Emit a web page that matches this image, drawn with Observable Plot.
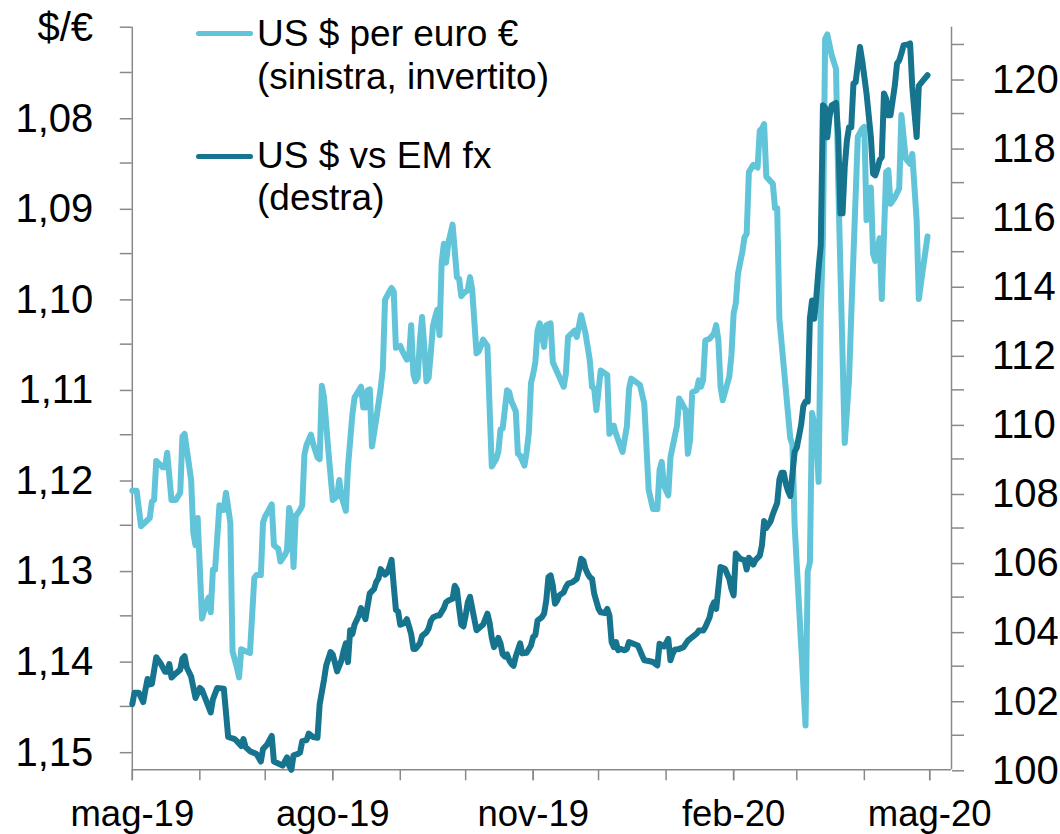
<!DOCTYPE html>
<html>
<head>
<meta charset="utf-8">
<script src="https://cdn.jsdelivr.net/npm/d3@7"></script>
<script src="https://cdn.jsdelivr.net/npm/@observablehq/plot@0.6"></script>
<style>
  html, body { margin: 0; padding: 0; background: #ffffff; }
  #wrap { position: relative; width: 1060px; height: 834px; font-family: "Liberation Sans", Arial, sans-serif; color: #000; overflow: hidden; }
  #wrap svg { position: absolute; left: 0; top: 0; }
  .lbl { position: absolute; white-space: nowrap; }
  .sw { position: absolute; height: 5.5px; border-radius: 3px; }
</style>
</head>
<body>
<div id="wrap"></div>
<script>
// ---------- data ----------
const lightDates = [
"2019-05-01","2019-05-03","2019-05-05","2019-05-09","2019-05-10","2019-05-11","2019-05-12","2019-05-15","2019-05-16","2019-05-17","2019-05-19","2019-05-21","2019-05-23","2019-05-24","2019-05-25","2019-05-28","2019-05-29","2019-05-30","2019-05-31",
"2019-06-02","2019-06-04","2019-06-05","2019-06-06","2019-06-07","2019-06-08","2019-06-10","2019-06-11","2019-06-12","2019-06-13","2019-06-15","2019-06-16","2019-06-18","2019-06-19","2019-06-20","2019-06-22","2019-06-24","2019-06-26","2019-06-27","2019-06-29","2019-06-30",
"2019-07-01","2019-07-02","2019-07-04","2019-07-05","2019-07-07","2019-07-08","2019-07-10","2019-07-11","2019-07-12","2019-07-13","2019-07-14","2019-07-15","2019-07-17","2019-07-18","2019-07-19","2019-07-20","2019-07-22","2019-07-23","2019-07-25","2019-07-26","2019-07-27","2019-07-28","2019-07-30",
"2019-08-01","2019-08-02","2019-08-03","2019-08-04","2019-08-05","2019-08-07","2019-08-08","2019-08-10","2019-08-11","2019-08-14","2019-08-15","2019-08-16","2019-08-17","2019-08-18","2019-08-19","2019-08-21","2019-08-23","2019-08-24","2019-08-25","2019-08-27","2019-08-28","2019-08-29","2019-08-30",
"2019-09-01","2019-09-02","2019-09-04","2019-09-05","2019-09-06","2019-09-07","2019-09-08","2019-09-09","2019-09-10","2019-09-11","2019-09-12","2019-09-13","2019-09-14","2019-09-15","2019-09-16","2019-09-17","2019-09-18","2019-09-19","2019-09-20","2019-09-21","2019-09-22","2019-09-23","2019-09-25","2019-09-27","2019-09-28","2019-09-29","2019-09-30",
"2019-10-02","2019-10-03","2019-10-04","2019-10-05","2019-10-06","2019-10-07","2019-10-08","2019-10-09","2019-10-11","2019-10-12","2019-10-13","2019-10-14","2019-10-15","2019-10-16","2019-10-17","2019-10-18","2019-10-20","2019-10-21","2019-10-22","2019-10-24","2019-10-25","2019-10-26","2019-10-28","2019-10-29","2019-10-30","2019-10-31",
"2019-11-01","2019-11-02","2019-11-03","2019-11-04","2019-11-06","2019-11-07","2019-11-09","2019-11-10","2019-11-15","2019-11-16","2019-11-17","2019-11-20","2019-11-21","2019-11-23","2019-11-25","2019-11-27","2019-11-28","2019-11-29","2019-11-30",
"2019-12-02","2019-12-05","2019-12-06","2019-12-08","2019-12-09","2019-12-12","2019-12-14","2019-12-15","2019-12-16","2019-12-20","2019-12-22","2019-12-24","2019-12-26","2019-12-28","2019-12-29","2019-12-30","2019-12-31",
"2020-01-02","2020-01-03","2020-01-06","2020-01-07","2020-01-10","2020-01-11","2020-01-12","2020-01-13","2020-01-15","2020-01-16","2020-01-17","2020-01-18","2020-01-19","2020-01-21","2020-01-23","2020-01-24","2020-01-25","2020-01-26","2020-01-27","2020-01-30","2020-01-31",
"2020-02-01","2020-02-02","2020-02-03","2020-02-05","2020-02-06","2020-02-07","2020-02-08","2020-02-10","2020-02-12","2020-02-13","2020-02-14","2020-02-15","2020-02-16","2020-02-19","2020-02-20","2020-02-21","2020-02-22","2020-02-27","2020-02-28","2020-02-29",
"2020-03-05","2020-03-06","2020-03-07","2020-03-08","2020-03-10","2020-03-11","2020-03-12","2020-03-13","2020-03-14","2020-03-15","2020-03-17","2020-03-19","2020-03-20","2020-03-23","2020-03-25","2020-03-26","2020-03-29","2020-03-31",
"2020-04-01","2020-04-02","2020-04-04","2020-04-05","2020-04-06","2020-04-08","2020-04-09","2020-04-11","2020-04-12","2020-04-13","2020-04-15","2020-04-17","2020-04-18","2020-04-20","2020-04-22","2020-04-23","2020-04-25","2020-04-26","2020-04-28","2020-04-30"
];
const lightValues = [
1.1212,1.1212,1.1251,1.1242,1.1224,1.1222,1.1179,1.1186,1.1186,1.1170,1.1222,1.1222,1.1214,1.1152,1.1149,1.1200,1.1258,1.1272,1.1242,
1.1353,1.1335,1.1330,1.1346,1.1299,1.1299,1.1228,1.1233,1.1233,1.1214,1.1247,1.1389,1.1407,1.1418,1.1387,1.1389,1.1391,1.1308,1.1305,1.1305,1.1247,
1.1240,1.1236,1.1227,1.1272,1.1276,1.1290,1.1283,1.1278,1.1231,1.1240,1.1296,1.1240,1.1233,1.1228,1.1172,1.1161,1.1150,1.1160,1.1175,1.1177,1.1096,1.1109,1.1168,
1.1222,1.1220,1.1218,1.1200,1.1218,1.1234,1.1185,1.1128,1.1109,1.1097,1.1120,1.1120,1.1101,1.1100,1.1163,1.1132,1.1099,1.1077,1.1001,1.0992,1.0988,1.0992,1.1054,
1.1052,1.1058,1.1067,1.1066,1.1029,1.1083,1.1091,1.1087,1.1046,1.1020,1.1052,1.1091,1.1087,1.1060,1.1030,1.1020,1.1012,1.1040,1.0960,1.0939,1.0960,1.0939,1.0918,1.0976,1.0978,1.0997,1.0994,
1.0990,1.0976,1.0990,1.1025,1.1060,1.1058,1.1052,1.1045,1.1052,1.1120,1.1185,1.1181,1.1177,1.1169,1.1144,1.1143,1.1101,1.1103,1.1113,1.1124,1.1171,1.1173,1.1184,1.1169,1.1148,1.1093,
1.1083,1.1070,1.1035,1.1027,1.1053,1.1029,1.1027,1.1070,1.1097,1.1083,1.1042,1.1035,1.1042,1.1018,1.1038,1.1068,1.1097,1.1099,1.1123,
1.1079,1.1084,1.1149,1.1140,1.1149,1.1169,1.1141,1.1099,1.1088,1.1095,1.1116,1.1211,1.1232,1.1232,1.1189,1.1180,1.1206,
1.1217,1.1175,1.1140,1.1110,1.1123,1.1171,1.1156,1.1103,1.1101,1.1090,1.1097,1.1090,1.1046,1.1044,1.1038,1.1029,1.1046,1.1097,1.1112,1.1086,1.1062,
1.1016,1.1005,1.0972,1.0948,1.0932,1.0928,1.0860,1.0852,1.0855,1.0814,1.0812,1.0807,1.0865,1.0873,1.0900,1.0900,1.1022,1.1154,1.1161,1.1250,
1.1471,1.1301,1.1291,1.1126,1.1149,1.1202,1.1017,1.0931,1.0713,1.0708,1.0731,1.0746,1.0870,1.1159,1.1088,1.1017,1.0821,1.0812,
1.0810,1.0913,1.0877,1.0950,1.0958,1.0933,1.1000,1.0860,1.0858,1.0895,1.0888,1.0878,1.0797,1.0845,1.0851,1.0840,1.0913,1.1000,1.0965,1.0931
];

const darkDates = [
"2019-05-01","2019-05-02","2019-05-04","2019-05-06","2019-05-07","2019-05-08","2019-05-09","2019-05-10","2019-05-12","2019-05-14","2019-05-16","2019-05-17","2019-05-18","2019-05-19","2019-05-21","2019-05-23","2019-05-24","2019-05-25","2019-05-26","2019-05-28","2019-05-30",
"2019-06-01","2019-06-02","2019-06-04","2019-06-06","2019-06-07","2019-06-09","2019-06-12","2019-06-13","2019-06-14","2019-06-17","2019-06-18","2019-06-20","2019-06-21","2019-06-22","2019-06-24","2019-06-27","2019-06-29","2019-06-30",
"2019-07-02","2019-07-04","2019-07-05","2019-07-07","2019-07-09","2019-07-11","2019-07-12","2019-07-13","2019-07-14","2019-07-16","2019-07-17","2019-07-18","2019-07-20","2019-07-21","2019-07-23","2019-07-25","2019-07-26","2019-07-28","2019-07-29","2019-07-31",
"2019-08-01","2019-08-02","2019-08-03","2019-08-05","2019-08-06","2019-08-07","2019-08-08","2019-08-09","2019-08-10","2019-08-11","2019-08-13","2019-08-14","2019-08-16","2019-08-17","2019-08-18","2019-08-20","2019-08-21","2019-08-22","2019-08-23","2019-08-25","2019-08-26","2019-08-27","2019-08-28","2019-08-29","2019-08-30","2019-08-31",
"2019-09-01","2019-09-03","2019-09-04","2019-09-05","2019-09-06","2019-09-07","2019-09-08","2019-09-10","2019-09-11","2019-09-13","2019-09-14","2019-09-15","2019-09-16","2019-09-18","2019-09-19","2019-09-21","2019-09-22","2019-09-23","2019-09-25","2019-09-26","2019-09-27","2019-09-28","2019-09-29","2019-09-30",
"2019-10-01","2019-10-02","2019-10-03","2019-10-04","2019-10-06","2019-10-08","2019-10-09","2019-10-11","2019-10-12","2019-10-13","2019-10-14","2019-10-15","2019-10-16","2019-10-17","2019-10-18","2019-10-19","2019-10-20","2019-10-21","2019-10-22","2019-10-23","2019-10-24","2019-10-26","2019-10-27","2019-10-29","2019-10-31",
"2019-11-01","2019-11-02","2019-11-03","2019-11-05","2019-11-06","2019-11-07","2019-11-08","2019-11-09","2019-11-10","2019-11-11","2019-11-12","2019-11-13","2019-11-15","2019-11-16","2019-11-17","2019-11-19","2019-11-21","2019-11-22","2019-11-23","2019-11-24","2019-11-25","2019-11-26","2019-11-27","2019-11-28","2019-11-29",
"2019-12-01","2019-12-02","2019-12-04","2019-12-05","2019-12-06","2019-12-07","2019-12-08","2019-12-09","2019-12-10","2019-12-11","2019-12-13","2019-12-14","2019-12-15","2019-12-17","2019-12-19","2019-12-20","2019-12-21","2019-12-22","2019-12-24","2019-12-26","2019-12-28","2019-12-29","2019-12-31",
"2020-01-01","2020-01-02","2020-01-03","2020-01-04","2020-01-05","2020-01-07","2020-01-09","2020-01-11","2020-01-12","2020-01-14","2020-01-15","2020-01-16","2020-01-18","2020-01-19","2020-01-21","2020-01-22","2020-01-23","2020-01-24","2020-01-26","2020-01-28","2020-01-30","2020-01-31",
"2020-02-01","2020-02-02","2020-02-04","2020-02-06","2020-02-07","2020-02-08","2020-02-09","2020-02-10","2020-02-11","2020-02-13","2020-02-14","2020-02-15","2020-02-16","2020-02-18","2020-02-19","2020-02-21","2020-02-22","2020-02-23","2020-02-24","2020-02-25","2020-02-26","2020-02-27","2020-02-29",
"2020-03-01","2020-03-03","2020-03-04","2020-03-05","2020-03-06","2020-03-07","2020-03-08","2020-03-09","2020-03-10","2020-03-11","2020-03-12","2020-03-13","2020-03-14","2020-03-15","2020-03-16","2020-03-17","2020-03-19","2020-03-20","2020-03-21","2020-03-22","2020-03-23","2020-03-24","2020-03-25","2020-03-26","2020-03-27","2020-03-28","2020-03-30","2020-03-31",
"2020-04-01","2020-04-02","2020-04-04","2020-04-05","2020-04-06","2020-04-07","2020-04-08","2020-04-09","2020-04-10","2020-04-11","2020-04-12","2020-04-13","2020-04-14","2020-04-15","2020-04-16","2020-04-17","2020-04-18","2020-04-19","2020-04-21","2020-04-22","2020-04-23","2020-04-24","2020-04-25","2020-04-26","2020-04-28","2020-04-30"
];
const darkValues = [
101.90,102.23,102.23,101.96,102.31,102.63,102.47,102.49,103.26,103.08,102.84,102.84,103.06,102.67,102.79,102.90,103.22,103.29,102.96,102.70,102.08,
102.37,102.31,101.99,101.66,102.04,102.37,102.35,101.66,100.95,100.89,100.83,100.69,100.89,100.66,100.54,100.46,100.24,100.60,
100.74,100.98,100.24,100.18,100.12,100.36,100.12,100.00,100.42,100.46,100.50,100.83,100.86,101.05,100.95,100.93,101.90,102.61,103.02,103.41,
103.34,103.10,102.85,103.17,103.45,103.66,103.12,104.04,103.93,104.20,104.47,104.68,104.36,104.74,105.11,105.24,105.44,105.54,105.81,105.65,105.71,105.87,106.08,105.33,104.63,104.58,
104.20,104.25,104.36,104.15,103.93,103.50,103.50,103.66,103.88,103.98,104.09,104.31,104.41,104.47,104.47,104.68,104.85,104.90,104.95,105.33,105.22,104.68,104.20,104.15,
104.47,104.85,105.01,104.68,104.04,104.15,104.20,104.52,104.25,103.82,103.55,103.65,103.82,103.66,103.34,103.28,103.34,103.17,103.07,103.01,103.28,103.66,103.37,103.39,103.60,
103.85,103.90,104.32,104.42,104.52,104.90,105.58,105.63,105.34,104.81,104.90,105.05,105.14,105.29,105.39,105.43,105.53,105.77,106.11,106.06,105.82,105.68,105.58,105.53,105.10,
104.66,104.56,104.54,104.66,104.47,103.70,103.55,103.70,103.46,103.50,103.46,103.50,103.70,103.65,103.60,103.46,103.31,103.17,103.15,103.12,103.02,103.65,103.57,
103.67,103.79,103.17,103.36,103.48,103.50,103.55,103.74,103.79,103.89,103.94,104.03,104.03,104.13,104.42,104.71,104.85,104.66,105.87,105.82,105.53,105.24,
105.05,106.26,106.11,106.07,105.80,106.14,106.07,105.94,106.07,106.20,106.50,107.20,107.00,107.20,107.40,107.73,108.40,108.60,108.60,108.27,108.07,107.93,109.20,
109.33,109.99,110.53,110.66,110.66,113.06,113.59,113.06,113.72,114.52,115.19,119.24,119.17,118.31,118.90,119.24,119.31,118.38,116.11,116.11,117.45,118.22,118.61,118.61,119.87,119.91,120.93,120.54,
120.06,119.58,118.32,117.26,117.21,117.40,117.65,117.74,119.58,119.43,118.95,118.95,119.38,119.82,120.45,120.54,120.74,120.98,121.00,121.03,119.77,119.04,118.32,119.80,119.96,120.11
];

// axes / labels
const xDomain = ["2019-05-01", "2020-05-11"];
const monthTicks = ["2019-05-01","2019-06-01","2019-07-01","2019-08-01","2019-09-01","2019-10-01","2019-11-01","2019-12-01","2020-01-01","2020-02-01","2020-03-01","2020-04-01","2020-05-01"];
const xLabelDates = ["2019-05-01","2019-08-01","2019-11-01","2020-02-01","2020-05-01"];
const xLabels = ["mag-19","ago-19","nov-19","feb-20","mag-20"];

const leftDomain = [1.07, 1.152];
const leftMajor = [1.08, 1.09, 1.10, 1.11, 1.12, 1.13, 1.14, 1.15];
const leftLabels = ["1,08","1,09","1,10","1,11","1,12","1,13","1,14","1,15"];
const leftMinor = [1.07, 1.075, 1.085, 1.095, 1.105, 1.115, 1.125, 1.135, 1.145];

const rightDomain = [100, 121.5];
const rightMajor = [100, 102, 104, 106, 108, 110, 112, 114, 116, 118, 120];
const rightLabels = ["100","102","104","106","108","110","112","114","116","118","120"];
const rightMinor = [101, 103, 105, 107, 109, 111, 113, 115, 117, 119, 121];

const seriesNames = ["US $ per euro €", "(sinistra, invertito)", "US $ vs EM fx", "(destra)"];
const leftUnit = "$/€";

// ---------- style ----------
const LIGHT = "#62c4d9";
const DARK = "#17748f";
const AXIS = "#898989";
const FONT = "'Liberation Sans', Arial, sans-serif";

const light = lightDates.map((d, i) => ({date: new Date(d), value: lightValues[i]}));
const dark = darkDates.map((d, i) => ({date: new Date(d), value: darkValues[i]}));
const xDom = xDomain.map(d => new Date(d));
const xLabelMap = new Map(xLabelDates.map((d, i) => [+new Date(d), xLabels[i]]));
const leftFmt = new Map(leftMajor.map((v, i) => [v, leftLabels[i]]));
const rightFmt = new Map(rightMajor.map((v, i) => [v, rightLabels[i]]));

const common = {
  width: 1060, height: 834,
  marginLeft: 131.8, marginRight: 109, marginTop: 26.7, marginBottom: 64.7
};

const left = Plot.plot({
  ...common,
  style: {fontFamily: FONT, background: "white", color: "black"},
  x: {type: "utc", domain: xDom, axis: null, label: null},
  y: {domain: leftDomain, reverse: true, axis: null, label: null},
  marks: [
    Plot.axisY(leftMinor, {anchor: "left", tickSize: 12, tickPadding: 27, tickFormat: () => "", stroke: AXIS, strokeWidth: 1.5, label: null}),
    Plot.axisY(leftMajor, {anchor: "left", tickSize: 12, tickPadding: 27, tickFormat: d => leftFmt.get(d), stroke: AXIS, strokeWidth: 1.5, fill: "black", fontSize: 40, dy: 1, label: null}),
    Plot.axisX(monthTicks.map(d => new Date(d)), {anchor: "bottom", tickSize: 11, tickPadding: 19, tickFormat: () => "", stroke: AXIS, strokeWidth: 1.5, label: null}),
    Plot.axisX(xLabelDates.map(d => new Date(d)), {anchor: "bottom", tickSize: 11, tickPadding: 19, tickFormat: d => xLabelMap.get(+d), stroke: AXIS, strokeWidth: 1.5, fill: "black", fontSize: 36.5, label: null}),
    Plot.ruleX([xDom[0]], {stroke: AXIS, strokeWidth: 1.5}),
    Plot.ruleY([leftDomain[1]], {stroke: AXIS, strokeWidth: 1.5}),
    Plot.line(light, {x: "date", y: "value", stroke: LIGHT, strokeWidth: 6, strokeLinejoin: "round", strokeLinecap: "round"})
  ]
});

const right = Plot.plot({
  ...common,
  style: {fontFamily: FONT, background: "transparent", color: "black"},
  x: {type: "utc", domain: xDom, axis: null, label: null},
  y: {domain: rightDomain, axis: null, label: null},
  marks: [
    Plot.axisY(rightMinor, {anchor: "right", tickSize: 12, tickPadding: 28.5, tickFormat: () => "", stroke: AXIS, strokeWidth: 1.5, label: null}),
    Plot.axisY(rightMajor, {anchor: "right", tickSize: 12, tickPadding: 28.5, tickFormat: d => rightFmt.get(d), stroke: AXIS, strokeWidth: 1.5, fill: "black", fontSize: 40, dy: 1, label: null}),
    Plot.ruleX([xDom[1]], {stroke: AXIS, strokeWidth: 1.5}),
    Plot.line(dark, {x: "date", y: "value", stroke: DARK, strokeWidth: 6, strokeLinejoin: "round", strokeLinecap: "round"})
  ]
});

const wrap = document.getElementById("wrap");
wrap.appendChild(left);
wrap.appendChild(right);

// unit label and legend (HTML overlays)
function addText(txt, css) {
  const el = document.createElement("div");
  el.className = "lbl";
  el.textContent = txt;
  Object.assign(el.style, css);
  wrap.appendChild(el);
}
function addSwatch(color, css) {
  const el = document.createElement("div");
  el.className = "sw";
  el.style.background = color;
  Object.assign(el.style, css);
  wrap.appendChild(el);
}
addText(leftUnit, {left: "0px", width: "93px", textAlign: "right", top: "4px", fontSize: "40px", lineHeight: "46px"});

addSwatch(LIGHT, {left: "196px", width: "57px", top: "30.5px"});
addText(seriesNames[0], {left: "257px", top: "11.7px", fontSize: "37px", lineHeight: "43px"});
addText(seriesNames[1], {left: "257px", top: "54.7px", fontSize: "37px", lineHeight: "43px"});
addSwatch(DARK, {left: "196px", width: "57px", top: "153.5px"});
addText(seriesNames[2], {left: "257px", top: "133.7px", fontSize: "37px", lineHeight: "43px"});
addText(seriesNames[3], {left: "257px", top: "175.7px", fontSize: "37px", lineHeight: "43px"});
</script>
</body>
</html>
